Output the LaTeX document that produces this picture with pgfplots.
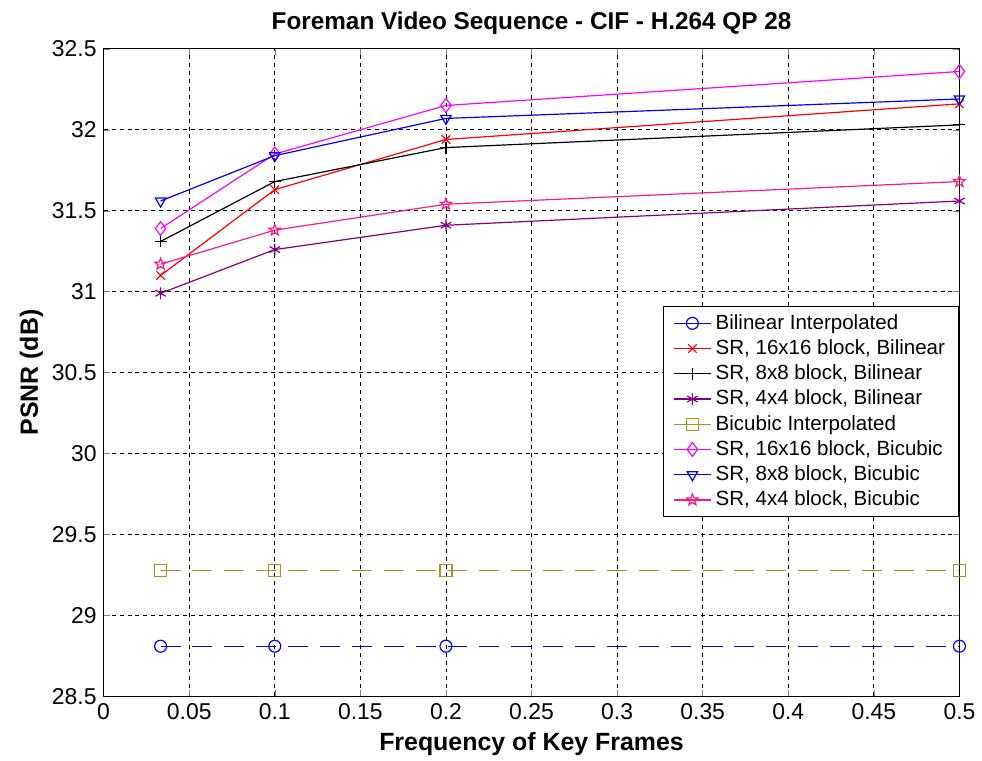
\documentclass[border=0pt]{standalone}
\usepackage{fontspec}
\setmainfont{Liberation Sans}
\usepackage{pgfplots}
\pgfplotsset{compat=1.18}

\definecolor{olivem}{rgb}{0.6,0.6,0.15}
\definecolor{purplem}{rgb}{0.5,0,0.5}
\definecolor{pinkm}{rgb}{1,0.1,0.5}
\definecolor{magentam}{rgb}{1,0,1}
\definecolor{bluem}{rgb}{0,0,1}
\definecolor{redm}{rgb}{1,0,0}

% outlined pentagram, like MATLAB's 'p' marker
\pgfdeclareplotmark{pentagram}{%
  \pgfpathmoveto{\pgfpointpolar{90}{\pgfplotmarksize}}%
  \pgfpathlineto{\pgfpointpolar{126}{0.42\pgfplotmarksize}}%
  \pgfpathlineto{\pgfpointpolar{162}{\pgfplotmarksize}}%
  \pgfpathlineto{\pgfpointpolar{198}{0.42\pgfplotmarksize}}%
  \pgfpathlineto{\pgfpointpolar{234}{\pgfplotmarksize}}%
  \pgfpathlineto{\pgfpointpolar{270}{0.42\pgfplotmarksize}}%
  \pgfpathlineto{\pgfpointpolar{306}{\pgfplotmarksize}}%
  \pgfpathlineto{\pgfpointpolar{342}{0.42\pgfplotmarksize}}%
  \pgfpathlineto{\pgfpointpolar{18}{\pgfplotmarksize}}%
  \pgfpathlineto{\pgfpointpolar{54}{0.42\pgfplotmarksize}}%
  \pgfpathclose
  \pgfusepathqstroke}

\begin{document}
\begin{tikzpicture}
\begin{axis}[scale only axis,width=429.5pt,height=325pt,
  xmin=0,xmax=0.5,ymin=28.5,ymax=32.5,
  xtick={0,0.05,...,0.5},ytick={28.5,29,...,32.5},
  /pgf/number format/fixed,/pgf/number format/assume math mode=true,
  tick label style={font=\fontsize{11.5}{13}\selectfont},
  tick align=inside,major tick length=3pt,
  xtick pos=both,ytick pos=both,
  grid=major,major grid style={black,line width=0.4pt,dash pattern=on 2pt off 2pt},
  axis line style={black,line width=0.6pt},
  title={Foreman Video Sequence - CIF - H.264 QP 28},
  title style={font=\bfseries\fontsize{12.2}{14}\selectfont,at={(0.5,1)},anchor=base,inner sep=0pt,yshift=3.5pt},
  xlabel={Frequency of Key Frames},
  xlabel style={font=\bfseries\fontsize{12.5}{14}\selectfont,at={(0.5,0)},anchor=base,inner sep=0pt,yshift=-27pt},
  ylabel={PSNR (dB)},
  ylabel style={font=\bfseries\fontsize{12.5}{14}\selectfont,at={(-0.0768,0.5)},anchor=base,inner sep=0pt},
  legend cell align=left,
  legend style={at={(1,0.603)},anchor=north east,draw=black,line width=0.5pt,
    font=\fontsize{10.3}{12.5}\selectfont,row sep=-0.3pt,inner xsep=5pt,inner ysep=2pt},
  legend image code/.code={\draw[mark repeat=2,mark phase=2,solid] plot coordinates {(0cm,0cm) (0.33cm,0cm) (0.66cm,0cm)};},
  every axis plot/.append style={line width=0.6pt,mark size=3pt,mark options={solid}},
]
\addplot[bluem,dash pattern=on 10pt off 6pt,mark=o] coordinates {
 (0.0333,28.81) (0.1,28.81) (0.2,28.81) (0.5,28.81)};
\addlegendentry{Bilinear Interpolated}
\addplot[redm,mark=x] coordinates {
 (0.0333,31.10) (0.1,31.63) (0.2,31.94) (0.5,32.16)};
\addlegendentry{SR, 16x16 block, Bilinear}
\addplot[black,mark=+] coordinates {
 (0.0333,31.31) (0.1,31.68) (0.2,31.89) (0.5,32.03)};
\addlegendentry{SR, 8x8 block, Bilinear}
\addplot[purplem,mark=asterisk] coordinates {
 (0.0333,30.99) (0.1,31.26) (0.2,31.41) (0.5,31.56)};
\addlegendentry{SR, 4x4 block, Bilinear}
\addplot[olivem,dash pattern=on 10pt off 6pt,mark=square] coordinates {
 (0.0333,29.28) (0.1,29.28) (0.2,29.28) (0.5,29.28)};
\addlegendentry{Bicubic Interpolated}
\addplot[magentam,mark=diamond,mark size=3.5pt] coordinates {
 (0.0333,31.39) (0.1,31.85) (0.2,32.15) (0.5,32.36)};
\addlegendentry{SR, 16x16 block, Bicubic}
\addplot[bluem,mark=triangle,mark options={rotate=180}] coordinates {
 (0.0333,31.56) (0.1,31.84) (0.2,32.07) (0.5,32.19)};
\addlegendentry{SR, 8x8 block, Bicubic}
\addplot[pinkm,mark=pentagram] coordinates {
 (0.0333,31.17) (0.1,31.38) (0.2,31.54) (0.5,31.68)};
\addlegendentry{SR, 4x4 block, Bicubic}
\end{axis}
\path (current axis.south west) ++(-52pt,-32pt) rectangle ([xshift=9.5pt,yshift=24.5pt]current axis.north east);
\end{tikzpicture}
\end{document}
